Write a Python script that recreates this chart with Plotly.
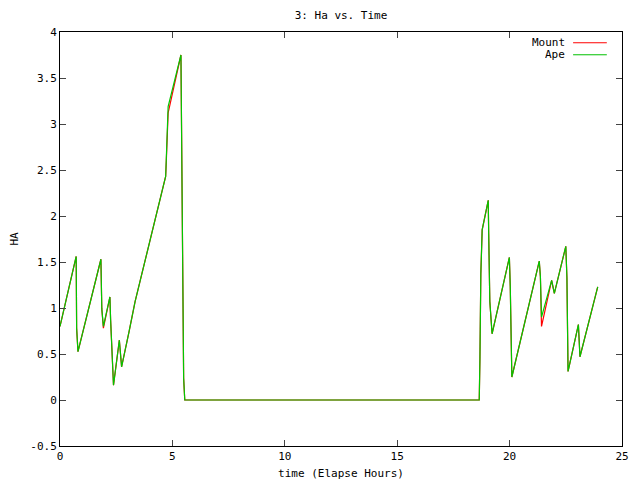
import plotly.graph_objects as go

time_hours = [0.00, 0.72, 0.74, 0.80, 1.82, 1.86, 1.93, 2.22, 2.25, 2.38, 2.64, 2.74,
              3.07, 3.34, 3.63, 3.93, 4.23, 4.52, 4.70, 4.73, 4.78, 4.81,
              5.38, 5.40, 5.47, 5.50, 5.55, 18.65, 18.68, 18.72, 18.78,
              19.05, 19.07, 19.12, 19.22, 19.99, 20.03, 20.07, 20.10, 21.32, 21.37,
              21.42, 21.87, 21.99, 22.50, 22.55, 22.60, 23.06, 23.13, 23.92]
ape_ha = [0.80, 1.56, 0.78, 0.525, 1.53, 0.99, 0.80, 1.12, 0.88, 0.16, 0.65, 0.36,
          0.74, 1.07, 1.36, 1.67, 1.97, 2.25, 2.43, 2.63, 3.00, 3.19,
          3.75, 3.04, 1.60, 0.24, 0.00, 0.00, 0.45, 1.37, 1.85,
          2.17, 1.81, 1.07, 0.72, 1.55, 1.23, 0.58, 0.25, 1.51, 1.34,
          0.90, 1.30, 1.16, 1.67, 1.33, 0.31, 0.82, 0.47, 1.23]
mount_ha = [0.80, 1.56, 0.78, 0.525, 1.53, 0.99, 0.78, 1.12, 0.88, 0.16, 0.65, 0.36,
            0.74, 1.07, 1.36, 1.67, 1.97, 2.25, 2.43, 2.60, 2.90, 3.12,
            3.75, 3.04, 1.60, 0.24, 0.00, 0.00, 0.45, 1.37, 1.85,
            2.17, 1.81, 1.07, 0.72, 1.55, 1.23, 0.58, 0.25, 1.51, 1.34,
            0.80, 1.30, 1.16, 1.67, 1.33, 0.31, 0.82, 0.47, 1.23]

x_ticks = [0, 5, 10, 15, 20, 25]
y_ticks = [-0.5, 0, 0.5, 1, 1.5, 2, 2.5, 3, 3.5, 4]
y_tick_text = ["-0.5", "0", "0.5", "1", "1.5", "2", "2.5", "3", "3.5", "4"]

FONT = "DejaVu Sans Mono"
W, H = 632, 472  # page body has an 8px margin

fig = go.Figure()
fig.add_trace(go.Scatter(x=time_hours, y=mount_ha, mode="lines", name="Mount",
                         line=dict(color="#ff0000", width=1.2), showlegend=False))
fig.add_trace(go.Scatter(x=time_hours, y=ape_ha, mode="lines", name="Ape",
                         line=dict(color="#00c800", width=1.2), showlegend=False))

# gnuplot-style legend: text right-aligned, sample line to the right
legend_items = [("Mount", "#ff0000", 0.974), ("Ape", "#00c000", 0.945)]
for label, color, yy in legend_items:
    fig.add_annotation(x=0.900, y=yy, xref="paper", yref="paper", text=label,
                       showarrow=False, xanchor="right", yanchor="middle",
                       height=11, borderpad=0,
                       font=dict(family=FONT, size=11, color="black"))
    fig.add_shape(type="line", xref="paper", yref="paper", x0=0.913, x1=0.973,
                  y0=yy, y1=yy, line=dict(color=color, width=1))

fig.update_layout(
    width=W, height=H,
    margin=dict(l=52, r=18, t=24, b=34, autoexpand=False),
    paper_bgcolor="white", plot_bgcolor="white",
    font=dict(family=FONT, size=11, color="black"),
    title=dict(text="3: Ha vs. Time", x=0.5, xref="paper", xanchor="center",
               y=1 - 7 / H, yanchor="middle",
               font=dict(family=FONT, size=11, color="black")),
    xaxis=dict(range=[0, 25], tickvals=x_ticks, ticks="inside", ticklen=6,
               showline=True, mirror="ticks", linecolor="black", linewidth=1,
               showgrid=False, zeroline=False, automargin=False,
               title=dict(text="time (Elapse Hours)", standoff=7,
                          font=dict(family=FONT, size=11)),
               tickfont=dict(family=FONT, size=11)),
    yaxis=dict(range=[-0.5, 4], tickvals=y_ticks, ticktext=y_tick_text,
               ticks="inside", ticklen=6,
               showline=True, mirror="ticks", linecolor="black", linewidth=1,
               showgrid=False, zeroline=False, automargin=False,
               title=dict(text="HA", standoff=15,
                          font=dict(family=FONT, size=11)),
               tickfont=dict(family=FONT, size=11)),
)

fig.write_html("out.html")
